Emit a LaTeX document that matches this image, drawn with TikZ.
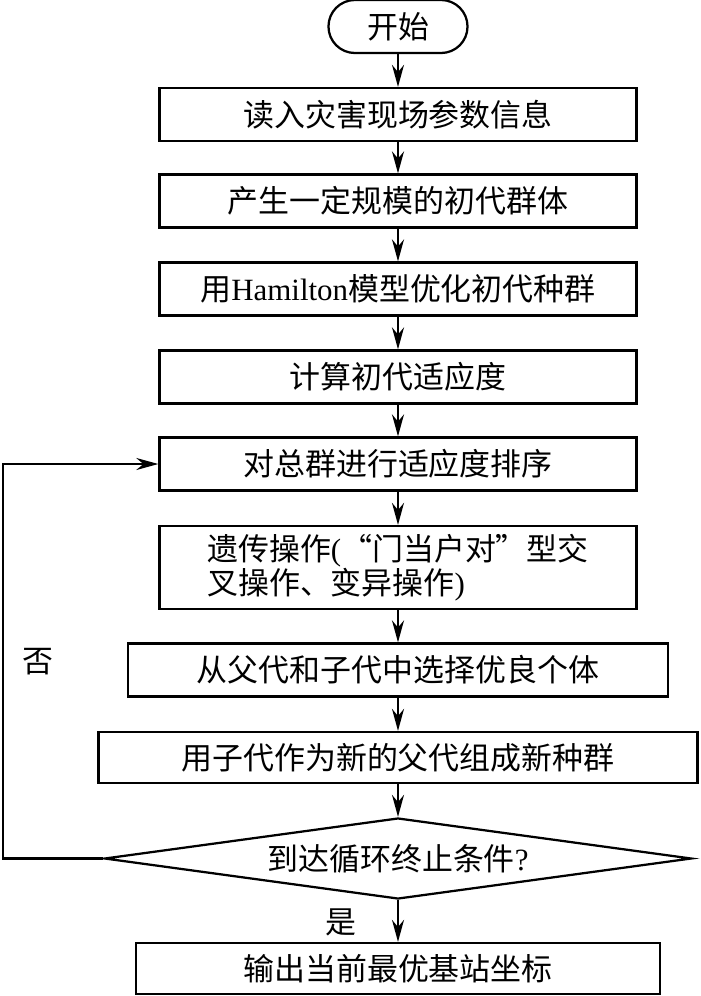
\documentclass[tikz,border=0pt]{standalone}
\usepackage{fontspec}
\setmainfont{Liberation Serif}
\newfontfamily\cjk{Noto Sans CJK SC}
\usepackage{tikz}
\usetikzlibrary{arrows.meta,shapes.geometric}

\begin{document}
\begin{tikzpicture}
    [
      x=0.025cm,y=-0.025cm,
      every node/.style={font=\cjk\fontsize{22pt}{23pt}\selectfont},
      procbox/.style={draw,rectangle,line width=1.6pt,minimum width=11.925cm,minimum height=1.325cm,inner sep=0pt},
      terminal/.style={draw,rectangle,rounded corners=0.66cm,line width=1.6pt,minimum width=3.475cm,minimum height=1.325cm,inner sep=0pt},
      decision/.style={draw,diamond,aspect=7,line width=1.6pt,minimum width=14.675cm,minimum height=2.025cm,inner sep=0pt},
      post/.style={-{Stealth[length=0.55cm,width=0.3cm]},line width=1.6pt},
    ]

    \useasboundingbox (0,0) rectangle (700,996);

    \node (start) [terminal] at (398,26.5) {开始};

    \node (read) [procbox] at (398,114.5) {读入灾害现场参数信息};

    \node (init) [procbox] at (398,201) {产生一定规模的初代群体};

    \node (hamilton) [procbox] at (398,289) {用{\rmfamily Hamilton}模型优化初代种群};

    \node (fitness) [procbox] at (398,377) {计算初代适应度};

    \node (sort) [procbox] at (398,464) {对总群进行适应度排序};

    \node (genetic) [procbox,minimum height=2.075cm,align=left] at (398,567.5)
      {遗传操作{\rmfamily (}“门当户对”型交\\叉操作、变异操作{\rmfamily )}};

    \node (select) [procbox,minimum width=13.5cm] at (398,670) {从父代和子代中选择优良个体};

    \node (renew) [procbox,minimum width=14.975cm,minimum height=1.275cm] at (398,757.5) {用子代作为新的父代组成新种群};

    \node (cond) [decision] at (398,858.5) {到达循环终止条件{\rmfamily ?}};

    \node (output) [procbox,minimum width=13.1cm,minimum height=1.275cm] at (398,968.5) {输出当前最优基站坐标};

    \coordinate (back) at (3,858.5);

    \node (no) at (38,662) {否};
    \node (yes) at (341,922) {是};

    \path
    (start) edge [post] (read)
    (read) edge [post] (init)
    (init) edge [post] (hamilton)
    (hamilton) edge [post] (fitness)
    (fitness) edge [post] (sort)
    (sort) edge [post] (genetic)
    (genetic) edge [post] (select)
    (select) edge [post] (renew)
    (renew) edge [post] (cond)
    (cond) edge [post] (output)
    ;

    \draw [post] (cond.west) -- (back) |- (sort.west);

  \end{tikzpicture}
\end{document}
